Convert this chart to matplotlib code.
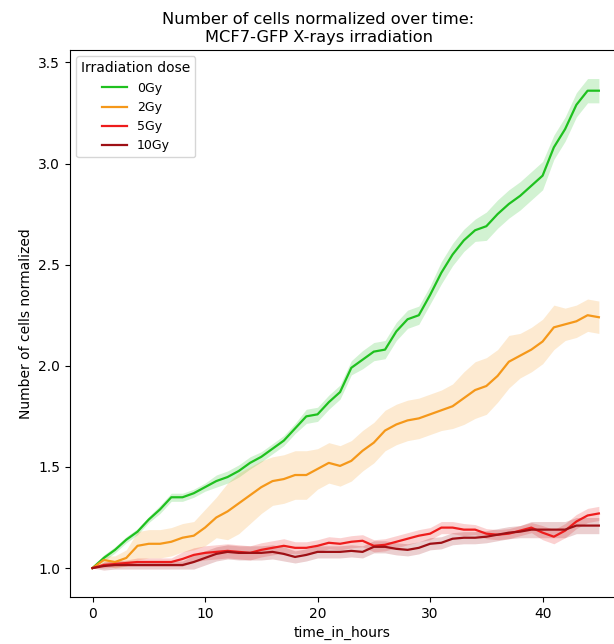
import numpy as np
import matplotlib
matplotlib.use("Agg")
import matplotlib.pyplot as plt

hours = np.arange(0, 46)

doses = ["0Gy", "2Gy", "5Gy", "10Gy"]
colors = ["#1fc11f", "#f5981a", "#ee1c1c", "#9e1015"]

# mean normalized cell count per hour
mean_0gy = [1.00, 1.05, 1.09, 1.14, 1.18, 1.24, 1.29, 1.35, 1.35, 1.37,
            1.40, 1.43, 1.45, 1.48, 1.52, 1.55, 1.59, 1.63, 1.69, 1.75,
            1.76, 1.82, 1.87, 1.99, 2.03, 2.07, 2.08, 2.17, 2.23, 2.25,
            2.35, 2.46, 2.55, 2.62, 2.67, 2.69, 2.75, 2.80, 2.84, 2.89,
            2.94, 3.08, 3.17, 3.29, 3.36, 3.36]
mean_2gy = [1.00, 1.04, 1.03, 1.05, 1.11, 1.12, 1.12, 1.13, 1.15, 1.16,
            1.20, 1.25, 1.28, 1.32, 1.36, 1.40, 1.43, 1.44, 1.46, 1.46,
            1.49, 1.52, 1.505, 1.53, 1.58, 1.62, 1.68, 1.71, 1.73, 1.74,
            1.76, 1.78, 1.80, 1.84, 1.88, 1.90, 1.95, 2.02, 2.05, 2.08,
            2.12, 2.19, 2.205, 2.22, 2.25, 2.24]
mean_5gy = [1.00, 1.015, 1.02, 1.025, 1.03, 1.03, 1.03, 1.03, 1.045, 1.065,
            1.075, 1.08, 1.085, 1.08, 1.075, 1.09, 1.10, 1.11, 1.10, 1.10,
            1.11, 1.125, 1.12, 1.13, 1.135, 1.11, 1.115, 1.13, 1.145, 1.16,
            1.17, 1.20, 1.20, 1.19, 1.19, 1.17, 1.165, 1.17, 1.185, 1.20,
            1.175, 1.155, 1.185, 1.23, 1.26, 1.27]
mean_10gy = [1.00, 1.01, 1.015, 1.015, 1.015, 1.015, 1.015, 1.015, 1.015, 1.03,
             1.05, 1.07, 1.08, 1.075, 1.075, 1.075, 1.08, 1.07, 1.055, 1.065,
             1.08, 1.08, 1.08, 1.085, 1.08, 1.105, 1.105, 1.095, 1.09, 1.10,
             1.12, 1.125, 1.145, 1.15, 1.15, 1.155, 1.165, 1.175, 1.18, 1.19,
             1.19, 1.19, 1.19, 1.21, 1.21, 1.21]

# half width of the confidence band
ci_0gy = [0.0, 0.015, 0.015, 0.015, 0.015, 0.015, 0.02, 0.02, 0.02, 0.02,
          0.02, 0.03, 0.03, 0.03, 0.03, 0.025, 0.025, 0.025, 0.025, 0.035,
          0.035, 0.035, 0.035, 0.035, 0.045, 0.045, 0.045, 0.045, 0.045, 0.045,
          0.045, 0.055, 0.055, 0.055, 0.055, 0.07, 0.07, 0.07, 0.07, 0.07,
          0.07, 0.06, 0.06, 0.06, 0.06, 0.06]
ci_2gy = [0.0, 0.02, 0.03, 0.04, 0.07, 0.07, 0.07, 0.07, 0.07, 0.07,
          0.09, 0.10, 0.14, 0.15, 0.14, 0.13, 0.12, 0.12, 0.12, 0.12,
          0.10, 0.10, 0.10, 0.10, 0.10, 0.10, 0.10, 0.10, 0.10, 0.10,
          0.10, 0.10, 0.11, 0.13, 0.14, 0.14, 0.13, 0.13, 0.11, 0.11,
          0.11, 0.11, 0.08, 0.08, 0.08, 0.08]
ci_5gy = [0.0, 0.015, 0.015, 0.015, 0.02, 0.02, 0.02, 0.02, 0.035, 0.035,
          0.035, 0.035, 0.035, 0.035, 0.035, 0.035, 0.035, 0.035, 0.03, 0.03,
          0.03, 0.03, 0.03, 0.03, 0.03, 0.03, 0.03, 0.03, 0.03, 0.03,
          0.03, 0.03, 0.03, 0.03, 0.025, 0.025, 0.025, 0.025, 0.025, 0.025,
          0.035, 0.035, 0.035, 0.035, 0.035, 0.035]
ci_10gy = [0.0, 0.02, 0.02, 0.02, 0.02, 0.02, 0.02, 0.02, 0.02, 0.035,
           0.035, 0.035, 0.035, 0.035, 0.035, 0.035, 0.035, 0.035, 0.03, 0.03,
           0.03, 0.03, 0.03, 0.03, 0.03, 0.03, 0.03, 0.03, 0.03, 0.03,
           0.03, 0.03, 0.03, 0.03, 0.03, 0.03, 0.03, 0.03, 0.03, 0.04,
           0.04, 0.04, 0.04, 0.04, 0.04, 0.04]

means = [mean_0gy, mean_2gy, mean_5gy, mean_10gy]
cis = [ci_0gy, ci_2gy, ci_5gy, ci_10gy]

fig = plt.figure(figsize=(6.14, 6.44), dpi=100)
# the right spine sits just outside the picture, as in the reference
ax = fig.add_axes([0.114, 0.073, 0.92, 0.849])

for dose, col, m, c in zip(doses, colors, means, cis):
    m = np.array(m)
    c = np.array(c)
    ax.fill_between(hours, m - c, m + c, color=col, alpha=0.2, linewidth=0)
    ax.plot(hours, m, color=col, lw=1.6, label=dose)

ax.set_xlim(-2.0, 48.2)
ax.set_ylim(0.857, 3.56)
ax.set_xticks([0, 10, 20, 30, 40])
ax.set_yticks([1.0, 1.5, 2.0, 2.5, 3.0, 3.5])
ax.set_xlabel("time_in_hours", x=0.481)
ax.set_ylabel("Number of cells normalized")
ax.set_title("Number of cells normalized over time:\nMCF7-GFP X-rays irradiation",
             fontsize=11.7, x=0.44)
ax.legend(title="Irradiation dose", loc="upper left", fontsize=9,
          title_fontsize=10)

fig.savefig("out.png", dpi=100)
